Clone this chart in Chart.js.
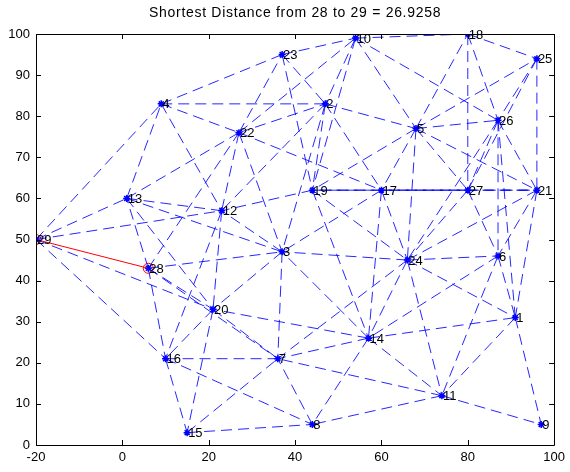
<!DOCTYPE html>
<html>
<head>
<meta charset="utf-8">
<script src="https://cdn.jsdelivr.net/npm/chart.js@4.4.1/dist/chart.umd.min.js"></script>
<style>
  html, body { margin: 0; padding: 0; background: #ffffff; }
  #wrap { width: 570px; height: 472px; }
</style>
</head>
<body>
<div id="wrap"><canvas id="graph"></canvas></div>
<script>
// node coordinates, numbered 1..29
var nodeX = [91, 47, 37, 9, 68, 87, 36, 44, 97, 54, 74, 23, 1, 57, 15, 10, 60, 80, 44, 21, 96, 27, 37, 66, 96, 87, 80, 6, -20];
var nodeY = [31, 83, 47, 83, 77, 46, 21, 5, 5, 99, 12, 57, 60, 26, 3, 21, 62, 100, 62, 33, 62, 76, 95, 45, 94, 79, 62, 43, 50];
var nodeLabels = ['1', '2', '3', '4', '5', '6', '7', '8', '9', '10', '11', '12', '13', '14', '15',
  '16', '17', '18', '19', '20', '21', '22', '23', '24', '25', '26', '27', '28', '29'];

// graph edges (pairs of node numbers)
var edgeFrom = [29, 29, 29, 29, 29,
  28, 28, 28, 28, 28, 28,
  13, 13, 13, 13, 13,
  4, 4, 4, 4,
  22, 22, 22, 22, 22, 22,
  23, 23, 23,
  10, 10, 10, 10, 10,
  2, 2, 2, 2, 2,
  5, 5, 5, 5, 5, 5, 5, 5,
  18, 18, 18,
  25, 25, 25,
  26, 26, 26, 26, 26,
  27, 27, 27, 27, 27,
  21, 21, 21, 17, 19,
  17, 17, 17, 17,
  19, 19, 19,
  24, 24, 24, 24, 24, 24,
  14, 14, 14, 14, 14, 14,
  6, 6, 6,
  1, 1,
  11, 11, 11,
  3, 3, 3,
  12, 12,
  20, 20, 20,
  16, 16, 16,
  15, 15,
  8];
var edgeTo = [4, 13, 12, 20, 16,
  13, 3, 16, 20, 7, 22,
  4, 12, 3, 20, 22,
  23, 2, 22, 12,
  23, 2, 17, 3, 12, 10,
  10, 2, 19,
  2, 19, 5, 18, 26,
  5, 19, 17, 3, 12,
  24, 17, 26, 18, 27, 21, 25, 19,
  27, 26, 25,
  21, 26, 27,
  6, 21, 27, 24, 1,
  6, 24, 21, 17, 19,
  24, 6, 1, 21, 21,
  19, 3, 14, 24,
  12, 14, 24,
  3, 6, 14, 11, 7, 1,
  8, 11, 1, 3, 7, 20,
  11, 14, 1,
  9, 11,
  9, 8, 7,
  7, 20, 12,
  20, 16,
  16, 15, 7,
  7, 15, 8,
  7, 8,
  7];

// shortest path found between the two end nodes
var pathNodes = [28, 29];

var xTicks = [-20, 0, 20, 40, 60, 80, 100];
var yTicks = [0, 10, 20, 30, 40, 50, 60, 70, 80, 90, 100];

function pt(n) { return { x: nodeX[n - 1], y: nodeY[n - 1] }; }

var pathLength = 0;
for (var i = 1; i < pathNodes.length; i++) {
  var a = pt(pathNodes[i - 1]), b = pt(pathNodes[i]);
  pathLength += Math.hypot(b.x - a.x, b.y - a.y);
}
var titleText = 'Shortest Distance from ' + pathNodes[0] + ' to ' + pathNodes[pathNodes.length - 1] +
  ' = ' + pathLength.toFixed(4);

var FONT = "'Liberation Sans', Arial, Helvetica, sans-serif";

var datasets = [];
for (var e = 0; e < edgeFrom.length; e++) {
  datasets.push({
    data: [pt(edgeFrom[e]), pt(edgeTo[e])],
    showLine: true,
    borderColor: 'rgba(0,0,255,0.85)',
    borderWidth: 1,
    borderDash: [11, 6],
    pointRadius: 0,
    fill: false
  });
}

datasets.push({
  data: pathNodes.map(pt),
  showLine: true,
  borderColor: '#ff0000',
  borderWidth: 1,
  pointRadius: 5,
  pointStyle: 'circle',
  pointBorderColor: '#ff0000',
  pointBackgroundColor: 'rgba(0,0,0,0)',
  pointBorderWidth: 1
});

datasets.push({
  data: nodeX.map(function(x, i) { return { x: x, y: nodeY[i] }; }),
  showLine: false,
  pointStyle: 'star',
  pointRadius: 3.5,
  pointBorderColor: '#0000ff',
  pointBackgroundColor: '#0000ff',
  pointBorderWidth: 1.5
});

// box, inward ticks, node labels and title
var matlabAxes = {
  id: 'matlabAxes',
  afterDraw: function(chart) {
    var ctx = chart.ctx;
    var area = chart.chartArea;
    var xs = chart.scales.x, ys = chart.scales.y;
    ctx.save();

    ctx.font = '13px ' + FONT;
    ctx.fillStyle = '#000000';
    ctx.textAlign = 'left';
    ctx.textBaseline = 'middle';
    for (var i = 0; i < nodeX.length; i++) {
      ctx.fillText(nodeLabels[i], xs.getPixelForValue(nodeX[i]) + 1, ys.getPixelForValue(nodeY[i]) + 1);
    }

    ctx.strokeStyle = '#000000';
    ctx.lineWidth = 1;
    ctx.beginPath();
    ctx.rect(Math.round(area.left) + 0.5, Math.round(area.top) + 0.5,
      Math.round(area.right - area.left), Math.round(area.bottom - area.top));
    xTicks.forEach(function(v) {
      var px = Math.round(xs.getPixelForValue(v)) + 0.5;
      ctx.moveTo(px, area.bottom); ctx.lineTo(px, area.bottom - 5);
      ctx.moveTo(px, area.top); ctx.lineTo(px, area.top + 5);
    });
    yTicks.forEach(function(v) {
      var py = Math.round(ys.getPixelForValue(v)) + 0.5;
      ctx.moveTo(area.left, py); ctx.lineTo(area.left + 5, py);
      ctx.moveTo(area.right, py); ctx.lineTo(area.right - 5, py);
    });
    ctx.stroke();

    ctx.font = '14px ' + FONT;
    ctx.letterSpacing = '0.7px';
    ctx.textAlign = 'center';
    ctx.textBaseline = 'middle';
    ctx.fillText(titleText, (area.left + area.right) / 2, 13);
    ctx.restore();
  }
};

new Chart(document.getElementById('graph'), {
  type: 'scatter',
  data: { datasets: datasets },
  options: {
    responsive: true,
    maintainAspectRatio: false,
    animation: false,
    layout: { padding: { top: 34, right: 14, left: 0, bottom: 0 } },
    scales: {
      x: {
        type: 'linear',
        min: -20, max: 100,
        afterBuildTicks: function(s) { s.ticks = xTicks.map(function(v) { return { value: v }; }); },
        afterFit: function(s) { s.height = 27; },
        grid: { display: false, drawTicks: false },
        border: { display: false },
        ticks: { color: '#000000', font: { family: FONT, size: 13 }, padding: 5, maxRotation: 0 }
      },
      y: {
        type: 'linear',
        min: 0, max: 100,
        afterBuildTicks: function(s) { s.ticks = yTicks.map(function(v) { return { value: v }; }); },
        afterFit: function(s) { s.width = 36; },
        grid: { display: false, drawTicks: false },
        border: { display: false },
        ticks: { color: '#000000', font: { family: FONT, size: 13 }, padding: 6 }
      }
    },
    plugins: {
      legend: { display: false },
      tooltip: { enabled: false },
      title: { display: false }
    }
  },
  plugins: [matlabAxes]
});
</script>
</body>
</html>
